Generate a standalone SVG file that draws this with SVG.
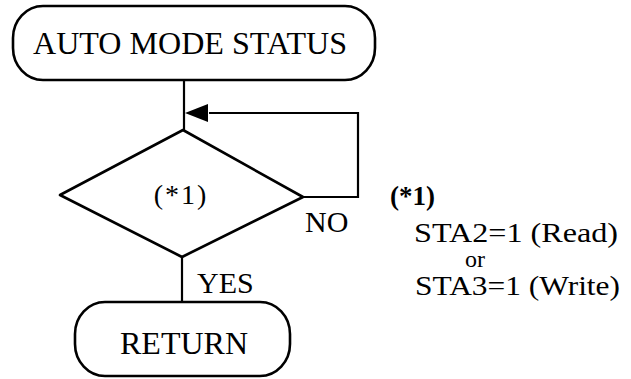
<svg xmlns="http://www.w3.org/2000/svg" width="631" height="379" viewBox="0 0 631 379">
<style>
.s{fill:none;stroke:#000;stroke-width:2.6;stroke-linejoin:round}
.l{fill:none;stroke:#000;stroke-width:2.2}
.t{font-family:'Liberation Serif','DejaVu Serif','Noto Serif',serif;fill:#000}
</style>
<rect width="631" height="379" fill="#fff"/>
<g id="start">
<rect class="s" x="13" y="6" width="362" height="74" rx="30" ry="32"/>
<text class="t" x="190" y="54" font-size="32" text-anchor="middle" textLength="314" lengthAdjust="spacingAndGlyphs" font-family="Liberation Serif, serif">AUTO MODE STATUS</text>
</g>
<g id="decision">
<path class="s" d="M183,130 L303,197 L182,257 L60,195 Z"/>
<text class="t" x="181" y="204" font-size="28" text-anchor="middle" letter-spacing="2" font-family="Liberation Serif, serif">(*1)</text>
</g>
<g id="return">
<rect class="s" x="75" y="302" width="215" height="74" rx="30" ry="32"/>
<text class="t" x="184" y="354" font-size="32" text-anchor="middle" textLength="128" lengthAdjust="spacingAndGlyphs" font-family="Liberation Serif, serif">RETURN</text>
</g>
<g id="connectors">
<line class="l" x1="184" y1="80" x2="184" y2="130"/>
<polyline class="l" points="303,197 358,197 358,113 209,113"/>
<path d="M185,113 L208,104 L208,122 Z" fill="#000"/>
<line class="l" x1="182" y1="257" x2="182" y2="302"/>
<text class="t" x="305" y="232" font-size="30" font-family="Liberation Serif, serif">NO</text>
<text class="t" x="197" y="293" font-size="30" font-family="Liberation Serif, serif">YES</text>
</g>
<g id="note">
<text class="t" x="390" y="205" font-size="27" font-weight="bold" font-family="Liberation Serif, serif">(*1)</text>
<text class="t" x="414" y="242" font-size="28" textLength="204" lengthAdjust="spacingAndGlyphs" font-family="Liberation Serif, serif">STA2=1 (Read)</text>
<text class="t" x="475" y="267" font-size="24" text-anchor="middle" font-family="Liberation Serif, serif">or</text>
<text class="t" x="415" y="295" font-size="28" textLength="205" lengthAdjust="spacingAndGlyphs" font-family="Liberation Serif, serif">STA3=1 (Write)</text>
</g>
</svg>
